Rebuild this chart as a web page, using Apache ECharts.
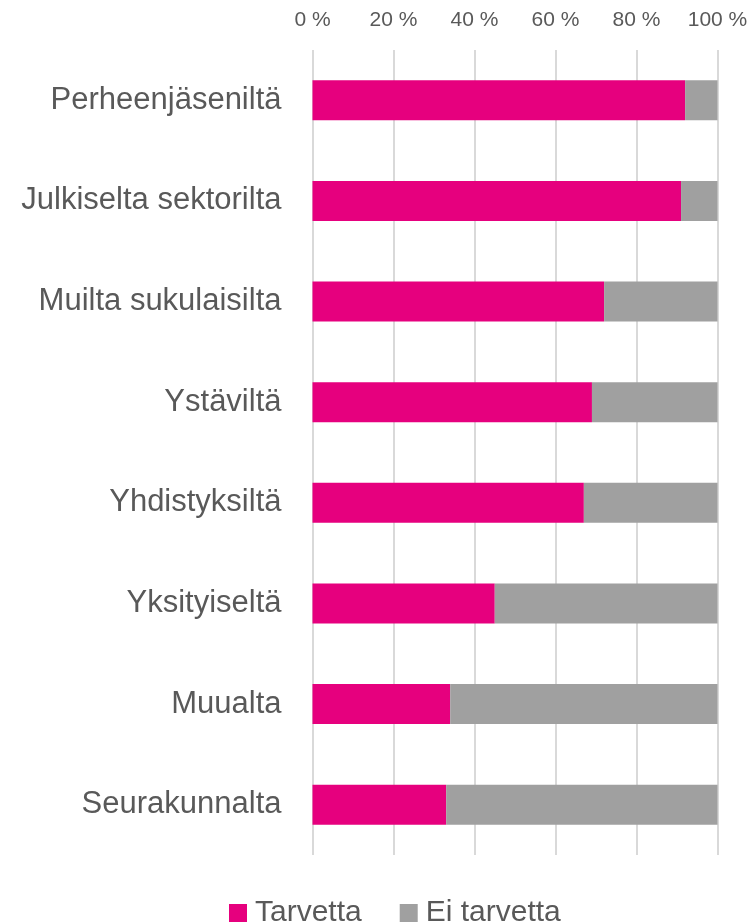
<!DOCTYPE html>
<html>
<head>
<meta charset="utf-8">
<script src="https://cdn.jsdelivr.net/npm/echarts@6/dist/echarts.min.js"></script>
<style>
html, body { margin: 0; padding: 0; background: #fff; }
#chart { width: 751px; height: 923px; }
</style>
</head>
<body>
<div id="chart"></div>
<script>
// kategoriat ylhäältä alas
var categories = ['Perheenjäseniltä', 'Julkiselta sektorilta', 'Muilta sukulaisilta', 'Ystäviltä',
    'Yhdistyksiltä', 'Yksityiseltä', 'Muualta', 'Seurakunnalta'];
var tarvetta = [92, 91, 72, 69, 67, 45, 34, 33];
var eiTarvetta = [8, 9, 28, 31, 33, 55, 66, 67];
var seriesNames = ['Tarvetta', 'Ei tarvetta'];

var font = 'Liberation Sans';
var textColor = '#595959';

var chart = echarts.init(document.getElementById('chart'));
var option = {
    animation: false,
    color: ['#E6007E', '#A0A0A0'],
    grid: {
        left: 312.5,
        right: 33.5,
        top: 50,
        bottom: 68,
        containLabel: false
    },
    legend: {
        data: seriesNames,
        left: 224,
        top: 893,
        itemWidth: 18,
        itemHeight: 18,
        itemGap: 38,
        icon: 'rect',
        textStyle: {
            fontFamily: font,
            fontSize: 30,
            color: textColor,
            padding: [0, 0, 0, 3]
        }
    },
    xAxis: {
        type: 'value',
        position: 'top',
        min: 0,
        max: 100,
        interval: 20,
        axisLine: { show: false },
        axisTick: { show: false },
        axisLabel: {
            margin: 19,
            fontFamily: font,
            fontSize: 21,
            color: textColor,
            formatter: '{value} %'
        },
        splitLine: {
            lineStyle: { color: '#D9D9D9', width: 2 }
        }
    },
    yAxis: {
        type: 'category',
        inverse: true,
        data: categories,
        axisLine: { show: false },
        axisTick: { show: false },
        axisLabel: {
            margin: 31,
            fontFamily: font,
            fontSize: 31,
            color: textColor
        }
    },
    series: [
        {
            name: seriesNames[0],
            type: 'bar',
            stack: 'total',
            barWidth: 40,
            data: tarvetta
        },
        {
            name: seriesNames[1],
            type: 'bar',
            stack: 'total',
            barWidth: 40,
            data: eiTarvetta
        }
    ]
};
chart.setOption(option);
</script>
</body>
</html>
